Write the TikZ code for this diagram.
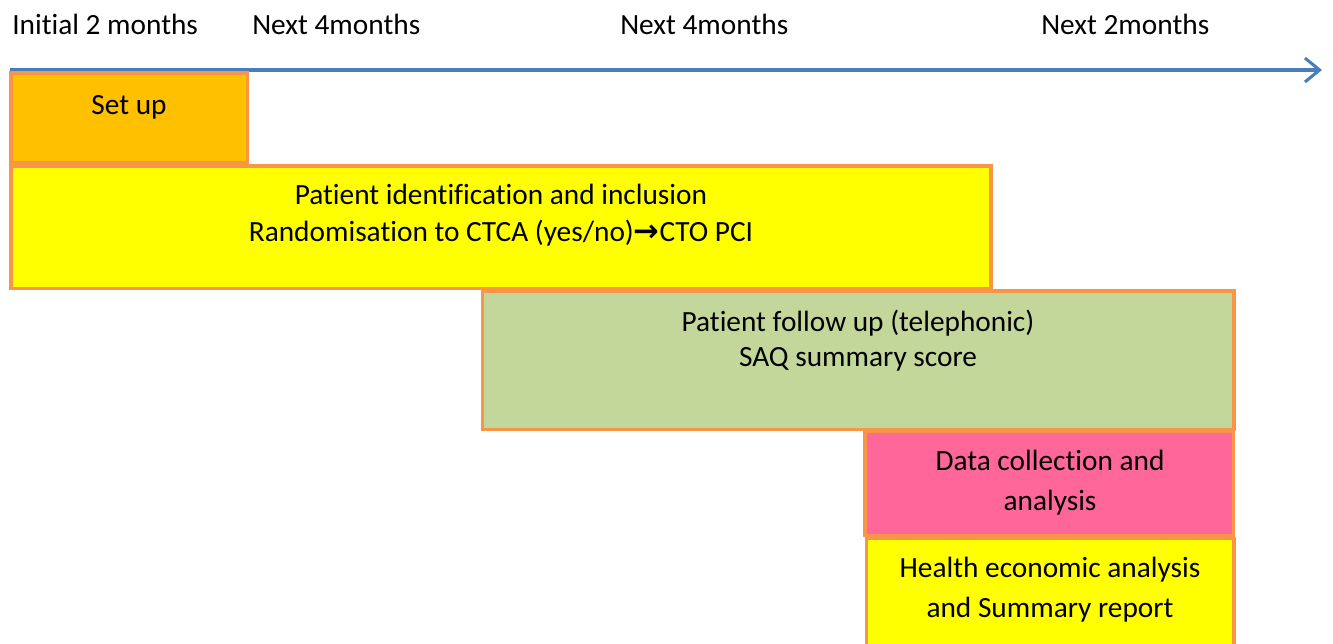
\documentclass[tikz,border=0pt]{standalone}
\usepackage{fontspec}
\setmainfont[Ligatures=NoCommon]{Carlito}
\newfontfamily\symf{DejaVu Sans}
\usetikzlibrary{arrows.meta}
\definecolor{axisblue}{HTML}{4A7EBB}
\definecolor{boxorange}{HTML}{F79646}
\definecolor{setupfill}{HTML}{FFC000}
\definecolor{yellowfill}{HTML}{FFFF00}
\definecolor{greenfill}{HTML}{C4D79B}
\definecolor{pinkfill}{HTML}{FF6699}
\tikzset{
  box/.style={draw=boxorange, line width=2.4pt, miter limit=10},
  lbl/.style={anchor=base west, inner sep=0pt, font=\fontsize{22}{27}\selectfont},
  txt/.style={anchor=base, inner sep=0pt, align=center},
}
\begin{document}
\begin{tikzpicture}[x=0.75pt,y=-0.75pt]
\useasboundingbox (0,0) rectangle (1333,643);
\clip (0,0) rectangle (1333,643);
% timeline
\coordinate (ax0) at (10,70);
\coordinate (ax1) at (1322,70);
\draw[axisblue, line width=2.3pt, -{Straight Barb[length=11pt,width=18pt,line width=2.3pt]}] (ax0) -- (ax1);
\node[lbl] (l1) at (12,34) {Initial 2 months};
\node[lbl] (l2) at (252,34) {Next 4months};
\node[lbl] (l3) at (620,34) {Next 4months};
\node[lbl] (l4) at (1041,34) {Next 2months};
% boxes
\path[box, fill=setupfill] (11,73) rectangle (247.5,162.5) node[midway] (setup) {};
\path[box, fill=yellowfill] (11,166) rectangle (991,288.5) node[midway] (ident) {};
\path[box, fill=greenfill] (482.5,291) rectangle (1234,429.5) node[midway] (follow) {};
\path[box, fill=pinkfill] (865,431.5) rectangle (1233.5,535.5) node[midway] (data) {};
\path[box, fill=yellowfill] (866.5,538.5) rectangle (1234,660) node[midway] (health) {};
% texts (base anchor = baseline of last line)
\node[txt, font=\fontsize{22}{27}\selectfont] (setupt) at (129,114) {Set up};
\node[txt, font=\fontsize{22}{27.75}\selectfont] (identt) at (501,241) {Patient identification and inclusion\\Randomisation to CTCA (yes/no){\symf\bfseries\fontsize{23}{27}\selectfont →}CTO PCI};
\node[txt, font=\fontsize{22}{26.25}\selectfont] (followt) at (858,366) {Patient follow up (telephonic)\\SAQ summary score};
\node[txt, font=\fontsize{22}{30}\selectfont] (datat) at (1050,510) {Data collection and\\analysis};
\node[txt, font=\fontsize{22}{30}\selectfont] (healtht) at (1050,617) {Health economic analysis\\and Summary report};
\end{tikzpicture}
\end{document}
